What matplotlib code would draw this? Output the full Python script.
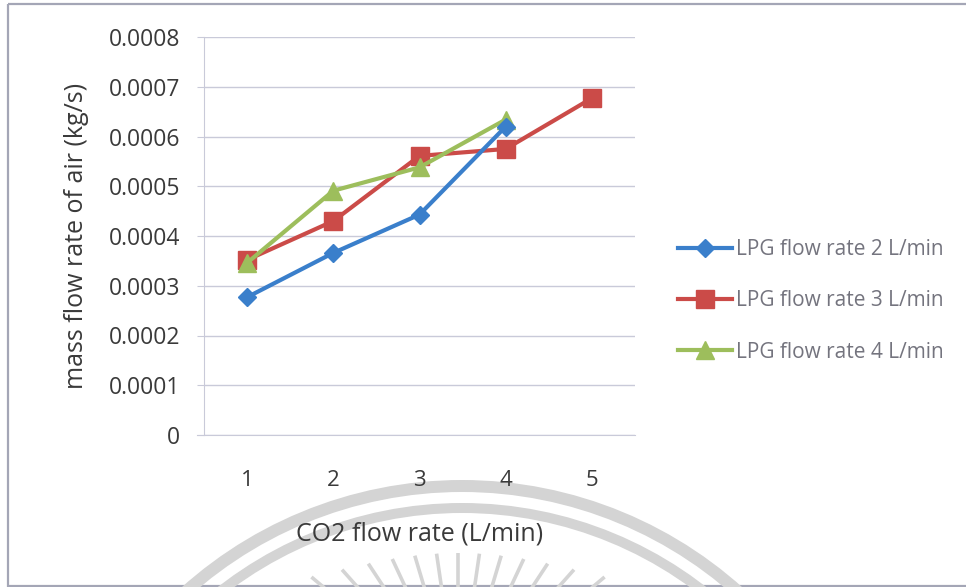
import numpy as np
import matplotlib
matplotlib.use("Agg")
import matplotlib.pyplot as plt
from matplotlib.patches import Arc, Rectangle
from matplotlib.lines import Line2D

# Chart data
co2_flow = [1, 2, 3, 4, 5]
lpg_2 = [0.000277, 0.000366, 0.000443, 0.000620]
lpg_3 = [0.000352, 0.000430, 0.000561, 0.000575, 0.000677]
lpg_4 = [0.000346, 0.000491, 0.000538, 0.000634]
series_labels = ["LPG flow rate 2 L/min", "LPG flow rate 3 L/min", "LPG flow rate 4 L/min"]
y_ticks = [0, 0.0001, 0.0002, 0.0003, 0.0004, 0.0005, 0.0006, 0.0007, 0.0008]
y_tick_labels = ["0", "0.0001", "0.0002", "0.0003", "0.0004", "0.0005", "0.0006", "0.0007", "0.0008"]

W, H = 966, 587
FONT = "Open Sans"
TXT = "#3a3a3a"
GRID = "#c9cad9"

fig = plt.figure(figsize=(W / 100, H / 100), dpi=100)
fig.patch.set_facecolor("white")

# Background layer in pixel coordinates: frame and faint seal watermark
bg = fig.add_axes([0, 0, 1, 1], zorder=0)
bg.set_xlim(0, W)
bg.set_ylim(H, 0)
bg.axis("off")
bg.add_patch(Rectangle((8, 4), 1000, 582, fill=False, edgecolor="#a4a6b6", lw=1.6))
cx, cy = 462, 900
wm = "#d4d4d4"
bg.add_patch(Arc((cx, cy), 2 * 414, 2 * 414, theta1=180, theta2=360, color=wm, lw=12 * 0.72))
bg.add_patch(Arc((cx, cy), 2 * 392, 2 * 392, theta1=180, theta2=360, color=wm, lw=10 * 0.72))
# sunburst rays of the seal
rx, ry = 458, 700
for ang in np.linspace(-50, 50, 13):
    a = np.deg2rad(ang)
    y_top = 553 + 24 * (abs(ang) / 50) ** 2
    r_top = (ry - y_top) / np.cos(a)
    r_bot = 90
    bg.plot([rx + r_bot * np.sin(a), rx + r_top * np.sin(a)],
            [ry - r_bot * np.cos(a), ry - r_top * np.cos(a)],
            color=wm, lw=2.6, solid_capstyle="butt")

# Main plot area
ax = fig.add_axes([204 / W, 1 - 435 / H, (635 - 204) / W, (435 - 37) / H], zorder=2)
ax.patch.set_alpha(0)
ax.set_xlim(0.5, 5.5)
ax.set_ylim(0, 0.0008)

ax.set_yticks(y_ticks)
ax.set_yticklabels(y_tick_labels)
ax.set_xticks(co2_flow)
ax.set_xticklabels([str(v) for v in co2_flow])
ax.grid(axis="y", color=GRID, lw=1.0)
ax.set_axisbelow(True)
for side in ["top", "right"]:
    ax.spines[side].set_visible(False)
ax.spines["left"].set_color(GRID)
ax.spines["bottom"].set_color(GRID)
ax.spines["bottom"].set_bounds(0.5 - 7 / 86, 5.5)
ax.tick_params(axis="y", length=5, color=GRID, pad=12, labelsize=16.5, labelcolor=TXT)
ax.tick_params(axis="x", length=0, pad=25, labelsize=16, labelcolor=TXT)
for lab in ax.get_xticklabels() + ax.get_yticklabels():
    lab.set_fontfamily(FONT)

blue, red, green = "#3a7fcb", "#cb4b48", "#9dbe5c"
ax.plot(co2_flow[:len(lpg_3)], lpg_3, color=red, lw=3, marker="s", ms=13.5, zorder=3,
        label=series_labels[1])
ax.plot(co2_flow[:len(lpg_4)], lpg_4, color=green, lw=3, marker="^", ms=13, zorder=4,
        label=series_labels[2])
ax.plot(co2_flow[:len(lpg_2)], lpg_2, color=blue, lw=3, marker="D", ms=9, zorder=5,
        label=series_labels[0])

ax.set_xlabel("CO2 flow rate (L/min)", fontsize=18, color=TXT, family=FONT, labelpad=22)
ax.set_ylabel("mass flow rate of air (kg/s)", fontsize=18, color=TXT, family=FONT, labelpad=14)

handles = [
    Line2D([], [], color=blue, lw=3, marker="D", ms=9),
    Line2D([], [], color=red, lw=3, marker="s", ms=13.5),
    Line2D([], [], color=green, lw=3, marker="^", ms=13),
]
leg = fig.legend(handles, series_labels, loc="center left", bbox_to_anchor=(659 / W, 1 - 301 / H),
                 frameon=False, handlelength=2.6, handletextpad=0.2, labelspacing=1.45,
                 prop={"family": FONT, "size": 15})
for t in leg.get_texts():
    t.set_color("#74747e")

fig.savefig("out.png", dpi=100)
